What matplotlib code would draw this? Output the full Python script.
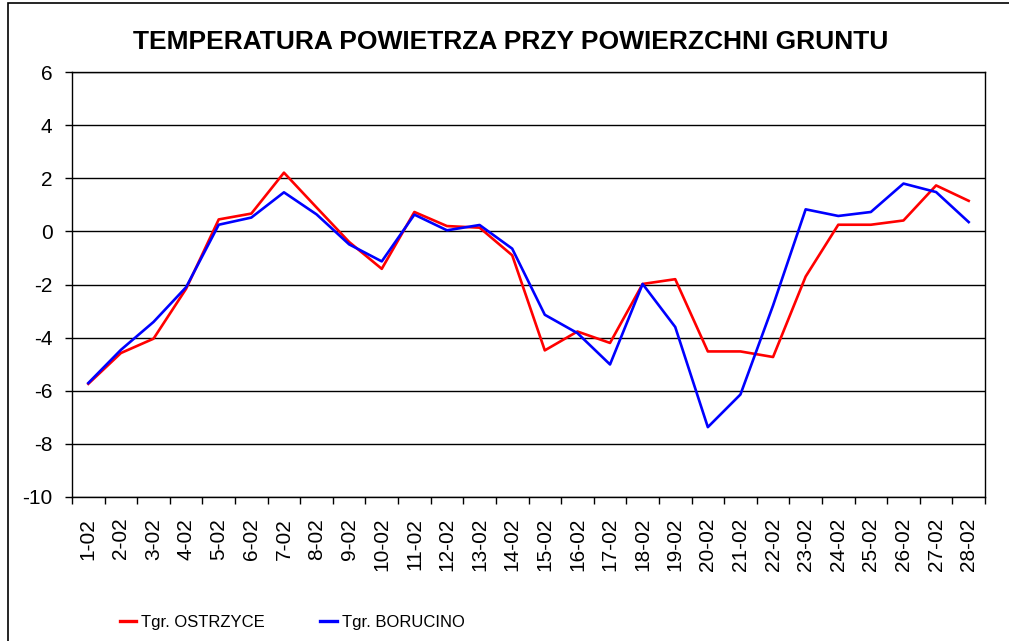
import numpy as np
import matplotlib.pyplot as plt
from matplotlib.patches import Rectangle

days = [f"{d}-02" for d in range(1, 29)]

ostrzyce = [-5.74, -4.58, -4.04, -2.16, 0.45, 0.67, 2.21, 0.90, -0.40, -1.41,
            0.73, 0.20, 0.14, -0.90, -4.48, -3.77, -4.20, -1.98, -1.80, -4.52,
            -4.52, -4.73, -1.70, 0.25, 0.25, 0.41, 1.73, 1.15]

borucino = [-5.71, -4.46, -3.41, -2.10, 0.25, 0.52, 1.47, 0.64, -0.49, -1.13,
            0.63, 0.04, 0.24, -0.65, -3.14, -3.83, -5.01, -1.98, -3.60, -7.37,
            -6.14, -2.79, 0.83, 0.58, 0.73, 1.80, 1.48, 0.35]

y_ticks = [6, 4, 2, 0, -2, -4, -6, -8, -10]

plt.rcParams['font.family'] = ['Liberation Sans', 'DejaVu Sans']

W, H = 1009, 641
fig = plt.figure(figsize=(W / 100, H / 100), dpi=100)

# outer chart frame (cut off on the right and bottom)
fig.patches.append(Rectangle((8 / W, -0.1), 1.2, 1 - 3 / H + 0.1,
                             transform=fig.transFigure, fill=False,
                             edgecolor='black', linewidth=1.2))

ax = fig.add_axes([72 / W, 1 - 497 / H, (985 - 72) / W, (497 - 72) / H])

x = np.arange(len(days))
ax.plot(x, ostrzyce, color='#ff0000', linewidth=1.9, label='Tgr. OSTRZYCE', zorder=3)
ax.plot(x, borucino, color='#0000ff', linewidth=1.9, label='Tgr. BORUCINO', zorder=3)

ax.set_xlim(-0.5, len(days) - 0.5)
ax.set_ylim(-10, 6)
ax.set_yticks(y_ticks)
ax.set_yticklabels([str(v) for v in y_ticks], fontsize=15)
for v in y_ticks:
    ax.axhline(v, color='black', linewidth=1.0, zorder=1)

# category labels at centres, tick marks at the boundaries
ax.set_xticks(x)
ax.set_xticklabels(days, rotation=90, fontsize=15)
ax.tick_params(axis='x', length=0, pad=15)
ax.set_xticks(np.arange(len(days) + 1) - 0.5, minor=True)
ax.tick_params(axis='x', which='minor', length=5, width=1, direction='out')
ax.tick_params(axis='y', length=5, width=1, direction='out', pad=9)

for side in ['left', 'bottom', 'right', 'top']:
    ax.spines[side].set_color('black')
    ax.spines[side].set_linewidth(1.0)

fig.text(0.506, 1 - 42 / H, 'TEMPERATURA POWIETRZA PRZY POWIERZCHNI GRUNTU',
         ha='center', va='center', fontsize=19, fontweight='bold')

leg = fig.legend(loc='center left', bbox_to_anchor=(113 / W, 1 - 622 / H), ncol=2,
                 frameon=False, fontsize=12, handlelength=1.0, handletextpad=0.3,
                 columnspacing=3.3, borderaxespad=0)
for line in leg.get_lines():
    line.set_linewidth(2.4)

fig.savefig('out.png', dpi=100)
